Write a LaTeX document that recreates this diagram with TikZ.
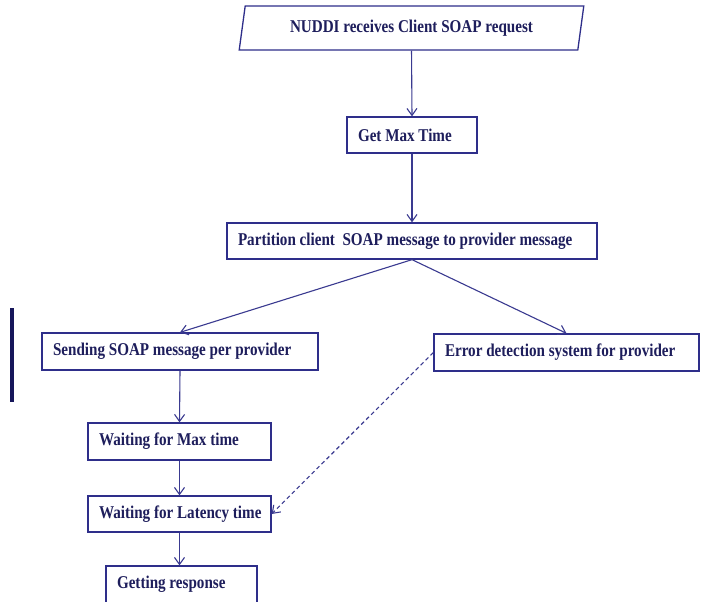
\documentclass[tikz,border=0pt]{standalone}
\usepackage{fontspec}
\newfontfamily\boxfont[FakeStretch=0.84]{Liberation Serif}
\newcommand{\myboxfont}{\boxfont\fontsize{18}{20}\selectfont\bfseries}
\newcommand{\lbox}[2]{\makebox[#1][l]{#2}}
\usetikzlibrary{arrows.meta,shapes.geometric}
\definecolor{boxc}{HTML}{2E2E8A}
\definecolor{linec}{HTML}{3A3A90}
\definecolor{txtc}{HTML}{1E1E5C}
\definecolor{barc}{HTML}{16165A}
\tikzset{
  stepbox/.style={draw=boxc, line width=1.3pt, fill=white, text=txtc,
    font=\myboxfont, inner xsep=11pt, inner ysep=0pt, anchor=center},
  conn/.style={draw=linec, line width=1.1pt, -{Straight Barb[length=7pt,width=10pt]}},
  dconn/.style={conn, dashed, dash pattern=on 4pt off 3pt}
}
\begin{document}
\begin{tikzpicture}[x=1pt,y=-1pt]
\clip (0,0) rectangle (715,602);
\fill[white] (0,0) rectangle (715,602);
\node[stepbox, trapezium, trapezium left angle=75, trapezium right angle=105,
  trapezium stretches=true, minimum width=345pt, minimum height=44pt,
  inner xsep=0pt] (start) at (411.5,28) {NUDDI receives Client SOAP request};
\node[stepbox, minimum height=36pt] (maxt) at (412,135) {\lbox{108pt}{Get Max Time}};
\node[stepbox, minimum height=36pt] (part) at (412,241) {\lbox{348pt}{Partition client\ \ SOAP message to provider message}};
\node[stepbox, minimum height=37pt] (send) at (180,351.5) {\lbox{254pt}{Sending SOAP message per provider}};
\node[stepbox, minimum height=37pt] (err) at (566.5,352.5) {\lbox{243pt}{Error detection system for provider}};
\node[stepbox, minimum height=37pt] (wmax) at (179.5,441.5) {\lbox{161pt}{Waiting for Max time}};
\node[stepbox, minimum height=36pt] (wlat) at (179.5,514) {\lbox{161pt}{Waiting for Latency time}};
\node[stepbox, minimum height=37pt] (resp) at (181.5,584.5) {\lbox{129pt}{Getting response}};
\draw[conn] (start.south) -- (maxt.north);
\draw[conn] (maxt.south) -- (part.north);
\draw[conn] (part.south) -- (send.north);
\draw[conn] (part.south) -- (err.north);
\draw[conn] (send.south) -- (wmax.north);
\draw[conn] (wmax.south) -- (wlat.north);
\draw[conn] (wlat.south) -- (wlat.south |- resp.north);
\draw[dconn] (err.west) -- (wlat.east);
\coordinate (bartop) at (12,308);
\coordinate (barbot) at (12,402);
\draw[barc, line width=3.5pt] (bartop) -- (barbot);
\end{tikzpicture}
\end{document}
